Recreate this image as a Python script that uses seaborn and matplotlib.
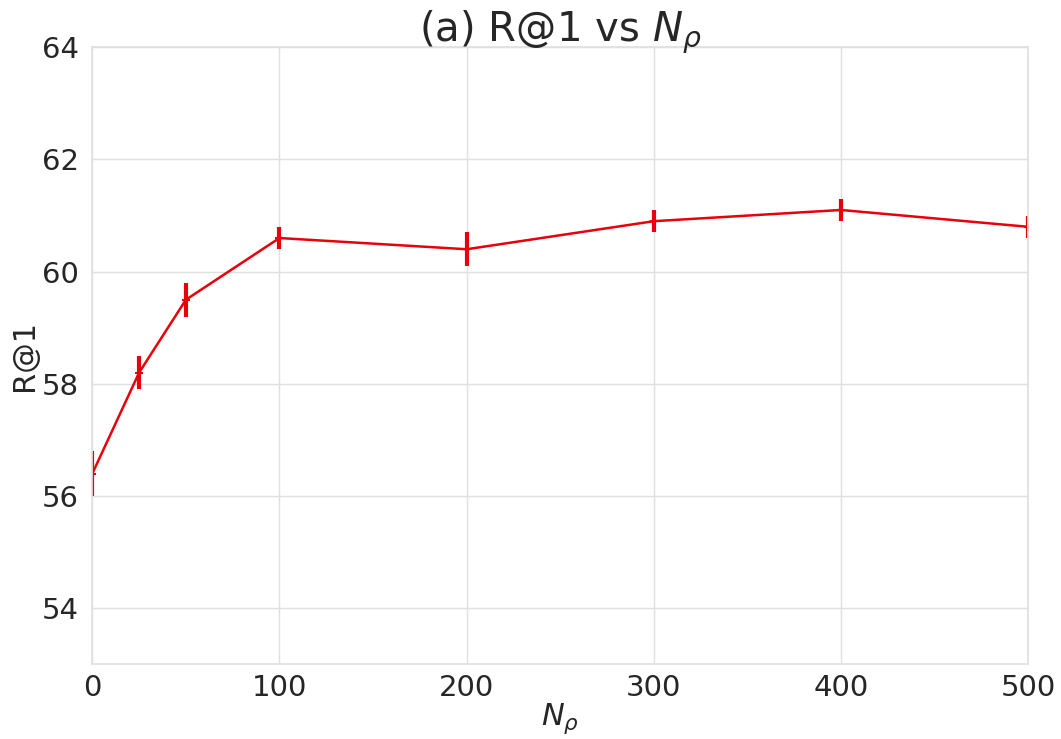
import numpy as np
import pandas as pd
import matplotlib
matplotlib.use("Agg")
import matplotlib.pyplot as plt
import seaborn as sns

n_rho = [0, 25, 50, 100, 200, 300, 400, 500]
r_at_1 = [56.4, 58.2, 59.5, 60.6, 60.4, 60.9, 61.1, 60.8]
r_err = [0.4, 0.3, 0.3, 0.2, 0.3, 0.2, 0.2, 0.2]
y_ticks = [54, 56, 58, 60, 62, 64]
x_ticks = [0, 100, 200, 300, 400, 500]

sns.set_theme(style="whitegrid")
plt.rcParams["font.family"] = ["DejaVu Sans"]
plt.rcParams["mathtext.fontset"] = "dejavusans"

df = pd.DataFrame({"N": n_rho, "R1": r_at_1, "err": r_err})
color = "#e8000b"

fig, ax = plt.subplots(figsize=(10.61, 7.39), dpi=100)
sns.lineplot(data=df, x="N", y="R1", ax=ax, color=color, linewidth=1.8)
ax.errorbar(df["N"], df["R1"], yerr=df["err"], fmt="none",
            ecolor=color, elinewidth=3, capsize=0)
ax.plot(df["N"], df["R1"], "+", color=color, markersize=6, markeredgewidth=1.5)

ax.set_xlim(0, 500)
ax.set_ylim(53, 64)
ax.set_xticks(x_ticks)
ax.set_yticks(y_ticks)
ax.tick_params(axis="x", labelsize=21, pad=1)
ax.tick_params(axis="y", labelsize=21, pad=3.5)
ax.set_xlabel(r"$N_\rho$", fontsize=22, labelpad=0)
ax.set_ylabel("R@1", fontsize=22, labelpad=2)
ax.set_title(r"(a) R@1 vs $N_\rho$", fontsize=29, pad=4)
ax.grid(color="#e0e0e0", linewidth=1)
for s in ax.spines.values():
    s.set_color("#e0e0e0")

fig.subplots_adjust(left=0.087, right=0.969, bottom=0.101, top=0.936)
fig.savefig("out.png", dpi=100)
